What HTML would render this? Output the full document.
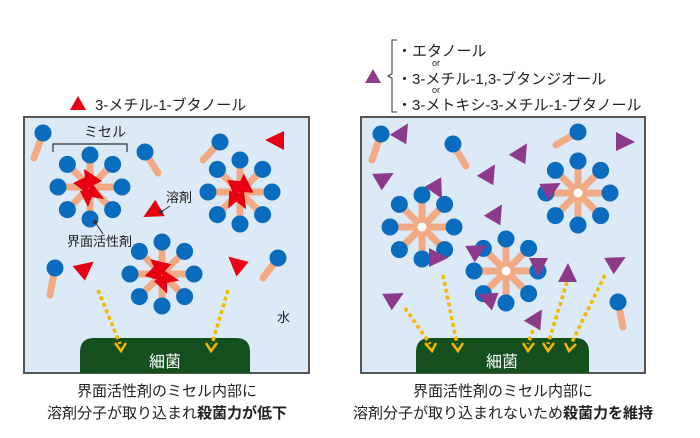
<!DOCTYPE html>
<html><head><meta charset="utf-8"><style>
body{margin:0;background:#fff}
svg{display:block}
text{font-family:"Liberation Sans","Noto Sans CJK JP",sans-serif;fill:#222}
</style></head><body>
<svg width="700" height="438" viewBox="0 0 700 438" xmlns="http://www.w3.org/2000/svg">
<defs>
<g id="spoke"><line x1="0" y1="0" x2="0" y2="-28" stroke="#f2aa84" stroke-width="7" stroke-linecap="round"/><circle cx="0" cy="-32" r="8.5" fill="#0a6cbf"/></g>
<g id="mic">
<use href="#spoke" transform="rotate(0)"/><use href="#spoke" transform="rotate(45)"/><use href="#spoke" transform="rotate(90)"/><use href="#spoke" transform="rotate(135)"/><use href="#spoke" transform="rotate(180)"/><use href="#spoke" transform="rotate(225)"/><use href="#spoke" transform="rotate(270)"/><use href="#spoke" transform="rotate(315)"/>
</g>
<g id="micw"><use href="#mic"/><circle r="4.5" fill="#fff"/></g>
<g id="redcore">
<polygon points="-6,-18 12,-6 -4,2" fill="#e60012"/>
<polygon points="-17,-4 0,-12 -2,7" fill="#e60012"/>
<polygon points="2,-4 14,12 -5,9" fill="#e60012"/>
<polygon points="-10,4 5,2 -2,20" fill="#e60012"/>
</g>
<polygon id="ptri" points="-9,-10 10,0 -9,9" fill="#8e3a8c"/>
<polygon id="rtri" points="-9,-10 10,0 -9,9" fill="#e60012"/>
</defs>

<polygon points="78,96 86,110 70,110" fill="#e60012"/>
<text x="95" y="110" font-size="15">3-メチル-1-ブタノール</text>

<polygon points="373,69 381,83 365,83" fill="#8e3a8c"/>
<path d="M397,40 h-5 v34 l-4,2 l4,2 v34 h5" fill="none" stroke="#333" stroke-width="1"/>
<text x="397" y="56" font-size="15">・エタノール</text>
<text x="432" y="66" font-size="9">or</text>
<text x="397" y="84" font-size="15">・3-メチル-1,3-ブタンジオール</text>
<text x="432" y="93" font-size="9">or</text>
<text x="397" y="110" font-size="15">・3-メトキシ-3-メチル-1-ブタノール</text>

<rect x="24" y="117" width="285" height="256" fill="#dce9f6" stroke="#555" stroke-width="2"/>
<rect x="361" y="117" width="284" height="256" fill="#dce9f6" stroke="#555" stroke-width="2"/>

<path d="M80,373 V352 Q80,338 94,338 H236 Q250,338 250,352 V373 Z" fill="#144f1e"/>
<path d="M416,373 V352 Q416,338 430,338 H575 Q589,338 589,352 V373 Z" fill="#144f1e"/>
<text x="165" y="367" font-size="16" text-anchor="middle" style="fill:#fff">細菌</text>
<text x="502" y="367" font-size="16" text-anchor="middle" style="fill:#fff">細菌</text>

<g stroke="#f2aa84" stroke-width="7" stroke-linecap="round">
<line x1="43" y1="133" x2="34" y2="158"/><line x1="145" y1="152" x2="158" y2="173"/>
<line x1="220" y1="142" x2="203" y2="160"/><line x1="278" y1="258" x2="263" y2="278"/>
<line x1="55" y1="268" x2="50" y2="295"/>
<line x1="381" y1="134" x2="372" y2="160"/><line x1="453" y1="144" x2="466" y2="166"/>
<line x1="578" y1="132" x2="556" y2="145"/><line x1="618" y1="302" x2="623" y2="327"/>
</g>
<g fill="#0a6cbf">
<circle cx="43" cy="133" r="8.5"/><circle cx="145" cy="152" r="8.5"/><circle cx="220" cy="142" r="8.5"/>
<circle cx="278" cy="258" r="8.5"/><circle cx="55" cy="268" r="8.5"/>
<circle cx="381" cy="134" r="8.5"/><circle cx="453" cy="144" r="8.5"/><circle cx="578" cy="132" r="8.5"/><circle cx="618" cy="302" r="8.5"/>
</g>
<use href="#mic" x="90" y="187"/><use href="#redcore" x="90" y="187"/>
<use href="#mic" x="240" y="192"/><use href="#redcore" x="240" y="192" transform="rotate(30 240 192)"/>
<use href="#mic" x="162" y="274"/><use href="#redcore" x="162" y="274" transform="rotate(-20 162 274)"/>
<use href="#rtri" transform="translate(275,140) rotate(180)"/>
<use href="#rtri" transform="translate(152,212) rotate(150)"/>
<use href="#rtri" transform="translate(86,268) rotate(-40)"/>
<use href="#rtri" transform="translate(236,263) rotate(220)"/>

<text x="105" y="137" font-size="14" text-anchor="middle">ミセル</text>
<path d="M53,152 v-8 h74 v8" fill="none" stroke="#333" stroke-width="1.2"/>
<text x="166" y="202" font-size="13">溶剤</text>
<line x1="161" y1="212" x2="170" y2="206" stroke="#333"/><circle cx="161" cy="212" r="2" fill="#333"/>
<text x="67" y="246" font-size="13">界面活性剤</text>
<line x1="95" y1="222" x2="103" y2="234" stroke="#333"/><circle cx="95" cy="222" r="2" fill="#333"/>
<text x="277" y="322" font-size="13">水</text>

<use href="#micw" x="422" y="227"/><use href="#micw" x="506" y="271"/><use href="#micw" x="578" y="193"/>
<use href="#ptri" transform="translate(403,132) rotate(-60)"/>
<use href="#ptri" transform="translate(522,152) rotate(-60)"/>
<use href="#ptri" transform="translate(490,173) rotate(-60)"/>
<use href="#ptri" transform="translate(385,178) rotate(-30)"/>
<use href="#ptri" transform="translate(437,190) rotate(60)"/>
<use href="#ptri" transform="translate(497,213) rotate(-60)"/>
<use href="#ptri" transform="translate(625,142) rotate(0)"/>
<use href="#ptri" transform="translate(552,188) rotate(-30)"/>
<use href="#ptri" transform="translate(478,250) rotate(-30)"/>
<use href="#ptri" transform="translate(438,258) rotate(0)"/>
<use href="#ptri" transform="translate(538,267) rotate(90)"/>
<use href="#ptri" transform="translate(395,298) rotate(-30)"/>
<use href="#ptri" transform="translate(487,298) rotate(200)"/>
<use href="#ptri" transform="translate(568,273) rotate(-90)"/>
<use href="#ptri" transform="translate(617,262) rotate(-30)"/>
<use href="#ptri" transform="translate(537,318) rotate(-60)"/>

<g stroke="#f5b800" stroke-width="3.5" stroke-dasharray="4,3" fill="none">
<line x1="98" y1="290" x2="120" y2="344"/><line x1="228" y1="290" x2="212" y2="344"/>
<line x1="405" y1="308" x2="430" y2="344"/><line x1="443" y1="275" x2="457" y2="344"/>
<line x1="533" y1="330" x2="528" y2="344"/><line x1="567" y1="282" x2="548" y2="344"/>
<line x1="605" y1="275" x2="571" y2="344"/>
</g>
<g stroke="#f5b800" stroke-width="2.5" fill="none">
<path d="M115,343 l6,8 l5,-8"/><path d="M206,343 l5,8 l6,-8"/>
<path d="M425,343 l7,8 l4,-8"/><path d="M452,343 l6,8 l5,-8"/>
<path d="M523,343 l5,8 l6,-8"/><path d="M543,343 l5,8 l6,-8"/><path d="M565,343 l4,8 l7,-7"/>
</g>

<text x="167" y="396" font-size="15" text-anchor="middle">界面活性剤のミセル内部に</text>
<text x="167" y="418" font-size="15" text-anchor="middle">溶剤分子が取り込まれ<tspan font-weight="bold">殺菌力が低下</tspan></text>
<text x="503" y="396" font-size="15" text-anchor="middle">界面活性剤のミセル内部に</text>
<text x="503" y="418" font-size="15" text-anchor="middle">溶剤分子が取り込まれないため<tspan font-weight="bold">殺菌力を維持</tspan></text>
</svg>
</body></html>
